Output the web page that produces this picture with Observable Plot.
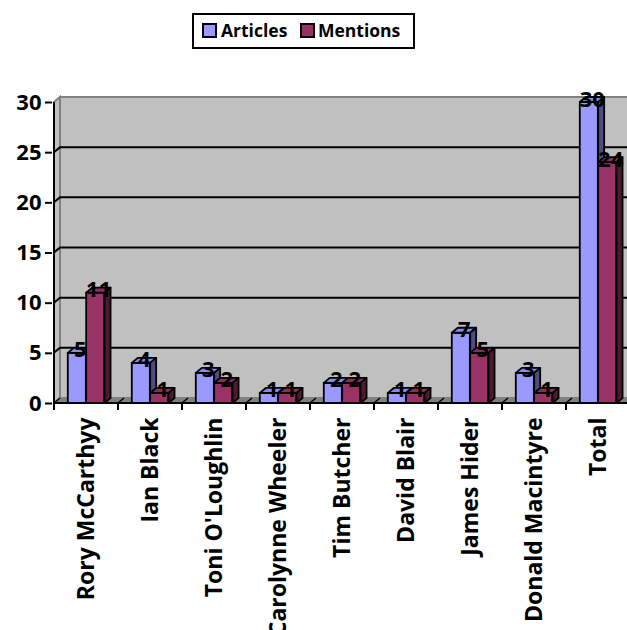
<!DOCTYPE html>
<html>
<head>
<meta charset="utf-8">
<script src="https://cdn.jsdelivr.net/npm/d3@7"></script>
<script src="https://cdn.jsdelivr.net/npm/@observablehq/plot@0.6"></script>
<style>
  html, body { margin: 0; padding: 0; background: #fff; overflow: hidden; }
  #wrap { position: relative; width: 627px; height: 630px; font-family: "Open Sans", Lato, sans-serif; }
  #legend { position: absolute; left: 192px; top: 13px; width: 219px; height: 32px; border: 2px solid #000; background: #fff;
            font-weight: bold; font-size: 17.5px; z-index: 2; }
  #legend .sw { position: absolute; top: 8px; width: 11px; height: 11px; border: 2px solid #000; }
  #legend .lbl { position: absolute; top: 3px; line-height: 24px; white-space: nowrap; }
  #chart { position: absolute; left: 0; top: 0; }
</style>
</head>
<body>
<div id="wrap">
  <div id="legend"></div>
  <div id="chart"></div>
</div>
<script>
const categories = ["Rory McCarthyy", "Ian Black", "Toni O'Loughlin", "Carolynne Wheeler", "Tim Butcher", "David Blair", "James Hider", "Donald Macintyre", "Total"];
const articles = [5, 4, 3, 1, 2, 1, 7, 3, 30];
const mentions = [11, 1, 2, 1, 2, 1, 5, 1, 24];
const seriesNames = ["Articles", "Mentions"];
const yTicks = [0, 5, 10, 15, 20, 25, 30];

const colors = {
  Articles: {front: "#9999ff", top: "#8a8ae6", side: "#4d4d80"},
  Mentions: {front: "#993366", top: "#8a2e5c", side: "#4d1a33"}
};

// legend
const legend = document.getElementById("legend");
const legendPos = {Articles: [8, 27], Mentions: [106, 124]};
seriesNames.forEach(s => {
  const sw = document.createElement("span");
  sw.className = "sw";
  sw.style.left = legendPos[s][0] + "px";
  sw.style.background = colors[s].front;
  legend.appendChild(sw);
  const t = document.createElement("span");
  t.className = "lbl";
  t.style.left = legendPos[s][1] + "px";
  t.textContent = s;
  legend.appendChild(t);
});

const X0 = 52, X1 = 631;
const BW = (X1 - X0) / categories.length;
const D = 6, DY = 5; // 3D depth
const barW = BW / 3.5;
const gap = (BW - 2 * barW) / 2;
const off = {Articles: [gap, gap + barW], Mentions: [gap + barW, gap + 2 * barW]};

const rowsA = categories.map((c, i) => ({name: c, value: articles[i]}));
const rowsM = categories.map((c, i) => ({name: c, value: mentions[i]}));

const background = (index, {x, y}) => {
  const g = d3.create("svg:g");
  const x0 = x(categories[0]);
  const x1 = x(categories[categories.length - 1]) + BW;
  const yMax = d3.max(yTicks);
  const yT = y(yMax), yB = y(0);
  g.append("rect").attr("x", x0 + D).attr("y", yT - DY).attr("width", x1 - x0).attr("height", yB - yT)
    .attr("fill", "#c0c0c0").attr("stroke", "#808080").attr("stroke-width", 2);
  g.append("polygon").attr("points", [[x0, yT], [x0 + D, yT - DY], [x0 + D, yB - DY], [x0, yB]].join(" "))
    .attr("fill", "#c0c0c0").attr("stroke", "#808080").attr("stroke-width", 2);
  yTicks.filter(t => t > 0 && t < yMax).forEach(t => {
    const yy = y(t);
    g.append("polyline").attr("points", [[x0, yy], [x0 + D, yy - DY], [x1 + D, yy - DY]].join(" "))
      .attr("fill", "none").attr("stroke", "#000").attr("stroke-width", 2);
  });
  g.append("polygon").attr("points", [[x0, yB], [x0 + D, yB - DY], [x1 + D, yB - DY], [x1, yB]].join(" "))
    .attr("fill", "#808080").attr("stroke", "none");
  categories.forEach(c => {
    const xb = x(c);
    g.append("line").attr("x1", xb).attr("y1", yB).attr("x2", xb + D).attr("y2", yB - DY)
      .attr("stroke", "#000").attr("stroke-width", 1.5);
  });
  return g.node();
};

const frontAxes = (index, {x, y}) => {
  const g = d3.create("svg:g").attr("stroke", "#000").attr("stroke-width", 2);
  const x0 = x(categories[0]);
  const x1 = x(categories[categories.length - 1]) + BW;
  const yT = y(d3.max(yTicks)), yB = y(0);
  g.append("line").attr("x1", x0).attr("y1", yT).attr("x2", x0).attr("y2", yB);
  g.append("line").attr("x1", x0).attr("y1", yB).attr("x2", x1).attr("y2", yB);
  categories.forEach(c => {
    const xb = x(c);
    g.append("line").attr("x1", xb).attr("y1", yB).attr("x2", xb).attr("y2", yB + 7);
  });
  g.append("line").attr("x1", x1).attr("y1", yB).attr("x2", x1).attr("y2", yB + 7);
  return g.node();
};

const faces = (vals, s) => (index, {x, y}) => {
  const g = d3.create("svg:g").attr("stroke", "#000").attr("stroke-width", 1.8).attr("stroke-linejoin", "round");
  const [o0, o1] = off[s];
  categories.forEach((c, i) => {
    const xl = x(c) + o0, xr = x(c) + o1, yt = y(vals[i]), yb = y(0);
    g.append("polygon").attr("points", [[xl, yt], [xl + D, yt - DY], [xr + D, yt - DY], [xr, yt]].join(" ")).attr("fill", colors[s].top);
    g.append("polygon").attr("points", [[xr, yt], [xr + D, yt - DY], [xr + D, yb - DY], [xr, yb]].join(" ")).attr("fill", colors[s].side);
  });
  return g.node();
};

const barOpts = (s) => ({
  x: "name", y: "value", fill: colors[s].front, stroke: "#000", strokeWidth: 1.8,
  insetLeft: off[s][0], insetRight: BW - off[s][1]
});

const FONT = "'Open Sans', Lato, sans-serif";

const chart = Plot.plot({
  width: 627,
  height: 630,
  marginLeft: X0,
  marginRight: 0,
  marginTop: 102,
  marginBottom: 227,
  style: {fontFamily: FONT, fontWeight: "bold", fontSize: "22px", background: "transparent"},
  x: {type: "band", domain: categories, range: [X0, X1], padding: 0, axis: null},
  y: {domain: [0, 30], range: [403, 102], axis: null},
  marks: [
    background,
    Plot.axisY({ticks: yTicks, tickSize: 7, tickPadding: 4, strokeWidth: 2, label: null, fontSize: 22, fontWeight: "bold"}),
    Plot.barY(rowsA, barOpts("Articles")),
    faces(articles, "Articles"),
    Plot.barY(rowsM, barOpts("Mentions")),
    faces(mentions, "Mentions"),
    frontAxes,
    Plot.text(rowsA, {x: "name", y: "value", text: d => String(d.value), dx: off.Articles[0] + barW / 2 + D / 2 - BW / 2, dy: 4, lineAnchor: "bottom", fontSize: 22, fontWeight: "bold", fill: "#000"}),
    Plot.text(rowsM, {x: "name", y: "value", text: d => String(d.value), dx: off.Mentions[0] + barW / 2 + D / 2 - BW / 2, dy: 4, lineAnchor: "bottom", fontSize: 22, fontWeight: "bold", fill: "#000"}),
    Plot.text(categories, {x: d => d, frameAnchor: "bottom", dy: 14, rotate: -90, textAnchor: "end", lineAnchor: "middle", fontSize: 23, fontWeight: "bold", fill: "#000"})
  ]
});
document.getElementById("chart").appendChild(chart);
</script>
</body>
</html>
